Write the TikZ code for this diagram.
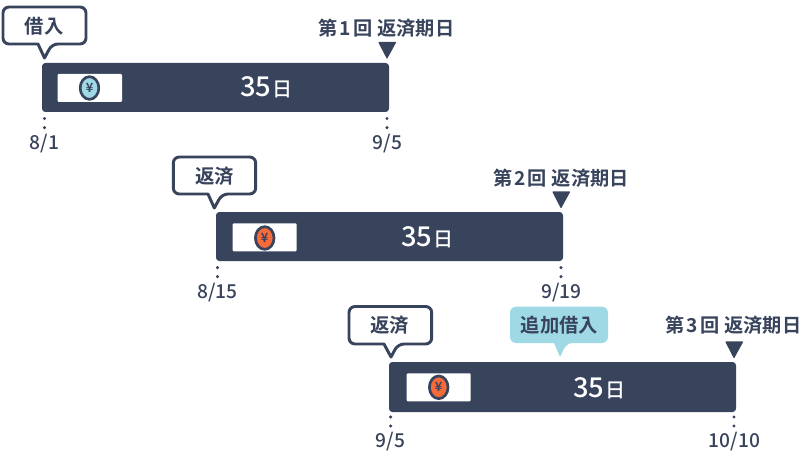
\documentclass[tikz,border=0pt]{standalone}
\usepackage{fontspec}
\setmainfont[BoldFont={Noto Sans CJK JP Bold}]{Noto Sans CJK JP Medium}
\newfontfamily\medfont{Noto Sans CJK JP Bold}
\definecolor{navy}{HTML}{38435C}
\definecolor{sky}{HTML}{9FD9E6}
\definecolor{coral}{HTML}{F76B3A}
\usetikzlibrary{shapes.geometric}
\newcommand{\duelabel}[1]{第\kern1.5pt #1\kern1.5pt 回\kern0.5pt\ 返済期日}
\newcommand{\dayslabel}{\fontsize{20.5}{20}\selectfont 35\kern0.5pt\fontsize{15}{14}\selectfont 日}
\tikzset{
  x=0.75pt,y=-0.75pt,
  barbox/.style={fill=navy,rounded corners=2.5pt},
  slip/.style={fill=white,rounded corners=0.8pt},
  coin/.style={draw=navy,line width=2pt,ellipse,minimum width=14pt,minimum height=17pt,inner sep=0pt,text=navy,font=\fontsize{9.5}{9}\selectfont\bfseries},
  callout/.style={draw=navy,fill=white,line width=2.2pt,rounded corners=4.5pt,line join=round},
  calltext/.style={text=navy,font=\medfont\fontsize{14.5}{15}\selectfont,inner sep=0pt},
  duetext/.style={text=navy,font=\medfont\fontsize{14.4}{15}\selectfont,inner sep=0pt},
  datetext/.style={text=navy,font=\fontsize{14.4}{15}\selectfont,inner sep=0pt},
  daystext/.style={text=white,inner sep=0pt,anchor=base west},
  tickdot/.style={circle,fill=navy,minimum size=2.6pt,inner sep=0pt},
  duemark/.style={fill=navy,draw=navy,line width=0.8pt,line join=round},
}
\begin{document}
\begin{tikzpicture}
\useasboundingbox (0,0) rectangle (800,460);
% --- bars
\fill[barbox] (42,63) rectangle (389,112);
\fill[barbox] (216,212) rectangle (563,261);
\fill[barbox] (389,362) rectangle (736,412);
% --- slips and coins
\fill[slip] (57.5,74) rectangle (122,102);
\fill[slip] (232.7,223.3) rectangle (296.7,251.3);
\fill[slip] (406.7,373.3) rectangle (470.7,401.3);
\node[coin,fill=sky] (coinA) at (89.5,88) {¥};
\node[coin,fill=coral] (coinB) at (264.7,238) {¥};
\node[coin,fill=coral] (coinC) at (438.7,387.3) {¥};
% --- day counts
\node[daystext] (daysA) at (240,97) {\dayslabel};
\node[daystext] (daysB) at (401,246) {\dayslabel};
\node[daystext] (daysC) at (573,397) {\dayslabel};
% --- callouts
\draw[callout] (3,7) -- (86,7) -- (86,44) -- (52,44) [sharp corners] -- (44.5,58) -- (38,44) [rounded corners=4.5pt] -- (3,44) -- cycle;
\draw[callout] (173.3,157) -- (255.7,157) -- (255.7,194) -- (222,194) [sharp corners] -- (214.3,208) -- (208,194) [rounded corners=4.5pt] -- (173.3,194) -- cycle;
\draw[callout] (349,306.5) -- (431.7,306.5) -- (431.7,344) -- (398,344) [sharp corners] -- (391,357) -- (384,344) [rounded corners=4.5pt] -- (349,344) -- cycle;
\fill[sky,rounded corners=4.5pt] (510,306.7) -- (608,306.7) -- (608,343) -- (566.7,343) [sharp corners] -- (560,357) -- (554,343) [rounded corners=4.5pt] -- (510,343) -- cycle;
\node[calltext] (lendA) at (44,26.5) {借入};
\node[calltext] (payB) at (214.5,176.5) {返済};
\node[calltext] (payC) at (389.5,325.5) {返済};
\node[calltext] (addC) at (559.5,325.5) {追加借入};
% --- due markers
\fill[duemark] (379,42.5) -- (395.5,42.5) -- (387,58) -- cycle;
\fill[duemark] (553,192) -- (569.5,192) -- (561,207.5) -- cycle;
\fill[duemark] (726,342) -- (742.5,342) -- (734,357.5) -- cycle;
\node[duetext] (dueA) at (386.5,28) {\duelabel{1}};
\node[duetext] (dueB) at (561,178) {\duelabel{2}};
\node[duetext] (dueC) at (733.5,325) {\duelabel{3}};
% --- dotted ticks
\foreach \x/\ya/\yb in {44.5/118.5/127.7,387/118.5/127.7,217.5/267.6/276.7,561/267.6/276.7,390.7/417/426,734/417/426}{
  \node[tickdot] at (\x,\ya) {};
  \node[tickdot] at (\x,\yb) {};
}
% --- dates
\node[datetext] (dateA) at (44.5,144) {8/1};
\node[datetext] (dateB) at (387.5,144) {9/5};
\node[datetext] (dateC) at (217.5,293) {8/15};
\node[datetext] (dateD) at (561.5,293) {9/19};
\node[datetext] (dateE) at (390.5,442) {9/5};
\node[datetext] (dateF) at (734.5,442) {10/10};
\end{tikzpicture}
\end{document}
